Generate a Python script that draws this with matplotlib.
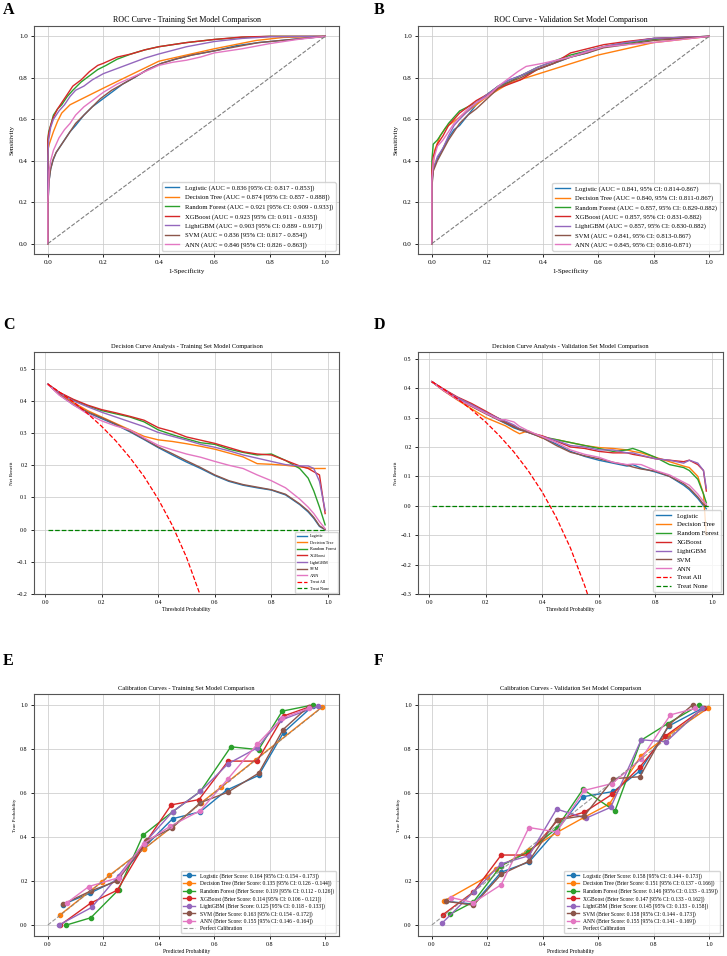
import numpy as np
import matplotlib
matplotlib.use('Agg')
from matplotlib import pyplot as plt

plt.rcParams['font.family'] = ['Liberation Serif', 'DejaVu Serif']
plt.rcParams['axes.unicode_minus'] = True

models = ['Logistic', 'Decision Tree', 'Random Forest', 'XGBoost', 'LightGBM', 'SVM', 'ANN']
colors = ['#1f77b4', '#ff7f0e', '#2ca02c', '#d62728', '#9467bd', '#8c564b', '#e377c2']

# ---------------- ROC, training ----------------
roc_train_auc = ['0.836 [95% CI: 0.817 - 0.853]', '0.874 [95% CI: 0.857 - 0.888]',
                 '0.921 [95% CI: 0.909 - 0.933]', '0.923 [95% CI: 0.911 - 0.935]',
                 '0.903 [95% CI: 0.889 - 0.917]', '0.836 [95% CI: 0.817 - 0.854]',
                 '0.846 [95% CI: 0.826 - 0.863]']
roc_train_fpr = {
    'Logistic':      [0, 0.0, 0.004, 0.01, 0.018, 0.03, 0.045, 0.06, 0.08, 0.1, 0.13, 0.16, 0.19, 0.23, 0.27, 0.31, 0.36, 0.41, 0.46, 0.52, 0.6, 0.68, 0.76, 0.84, 0.92, 1],
    'Decision Tree': [0, 0.0, 0.005, 0.02, 0.035, 0.05, 0.08, 0.2, 0.4, 0.6, 0.75, 0.85, 1],
    'Random Forest': [0, 0.0, 0.003, 0.01, 0.02, 0.035, 0.05, 0.07, 0.09, 0.12, 0.15, 0.18, 0.21, 0.25, 0.3, 0.35, 0.4, 0.5, 0.6, 0.7, 0.8, 1],
    'XGBoost':       [0, 0.0, 0.003, 0.01, 0.02, 0.035, 0.05, 0.07, 0.09, 0.12, 0.15, 0.18, 0.2, 0.25, 0.3, 0.35, 0.4, 0.5, 0.6, 0.7, 0.8, 1],
    'LightGBM':      [0, 0.0, 0.003, 0.01, 0.02, 0.04, 0.06, 0.08, 0.1, 0.13, 0.16, 0.2, 0.25, 0.3, 0.35, 0.4, 0.5, 0.6, 0.7, 0.8, 1],
    'SVM':           [0, 0.0, 0.004, 0.01, 0.02, 0.03, 0.045, 0.06, 0.08, 0.1, 0.13, 0.16, 0.19, 0.23, 0.27, 0.31, 0.36, 0.41, 0.46, 0.52, 0.6, 0.68, 0.76, 0.84, 0.92, 1],
    'ANN':           [0, 0.0, 0.005, 0.01, 0.02, 0.04, 0.06, 0.08, 0.1, 0.13, 0.16, 0.2, 0.25, 0.3, 0.35, 0.4, 0.45, 0.5, 0.55, 0.6, 0.65, 0.7, 0.8, 0.9, 1],
}
roc_train_tpr = {
    'Logistic':      [0, 0.18, 0.3, 0.36, 0.4, 0.44, 0.47, 0.5, 0.54, 0.57, 0.62, 0.66, 0.69, 0.73, 0.77, 0.8, 0.84, 0.87, 0.89, 0.91, 0.93, 0.955, 0.97, 0.98, 0.99, 1],
    'Decision Tree': [0, 0.45, 0.48, 0.54, 0.59, 0.63, 0.67, 0.75, 0.88, 0.94, 0.98, 0.995, 1],
    'Random Forest': [0, 0.5, 0.54, 0.57, 0.62, 0.65, 0.67, 0.71, 0.74, 0.78, 0.81, 0.84, 0.86, 0.89, 0.915, 0.935, 0.95, 0.97, 0.985, 0.995, 1.0, 1],
    'XGBoost':       [0, 0.5, 0.53, 0.57, 0.61, 0.65, 0.68, 0.72, 0.76, 0.79, 0.83, 0.86, 0.87, 0.9, 0.915, 0.935, 0.95, 0.97, 0.985, 0.997, 1.0, 1],
    'LightGBM':      [0, 0.42, 0.5, 0.56, 0.6, 0.64, 0.67, 0.71, 0.74, 0.76, 0.79, 0.82, 0.845, 0.87, 0.895, 0.915, 0.95, 0.975, 0.99, 0.998, 1],
    'SVM':           [0, 0.18, 0.3, 0.36, 0.41, 0.44, 0.47, 0.5, 0.54, 0.58, 0.62, 0.66, 0.7, 0.74, 0.77, 0.8, 0.84, 0.87, 0.89, 0.91, 0.93, 0.95, 0.97, 0.98, 0.99, 1],
    'ANN':           [0, 0.2, 0.35, 0.4, 0.45, 0.51, 0.55, 0.58, 0.62, 0.66, 0.69, 0.73, 0.77, 0.8, 0.83, 0.86, 0.875, 0.885, 0.9, 0.92, 0.93, 0.94, 0.965, 0.985, 1],
}

# ---------------- ROC, validation ----------------
roc_val_auc = ['0.841, 95% CI: 0.814-0.867', '0.840, 95% CI: 0.811-0.867',
               '0.857, 95% CI: 0.829-0.882', '0.857, 95% CI: 0.831-0.882',
               '0.857, 95% CI: 0.830-0.882', '0.841, 95% CI: 0.813-0.867',
               '0.845, 95% CI: 0.816-0.871']
roc_val_fpr = {
    'Logistic':      [0, 0.0, 0.005, 0.02, 0.04, 0.06, 0.08, 0.1, 0.13, 0.16, 0.2, 0.24, 0.28, 0.32, 0.38, 0.44, 0.5, 0.56, 0.62, 0.7, 0.8, 0.9, 1],
    'Decision Tree': [0, 0.0, 0.01, 0.03, 0.05, 0.1, 0.15, 0.2, 0.28, 0.6, 0.8, 1],
    'Random Forest': [0, 0.0, 0.005, 0.02, 0.04, 0.06, 0.08, 0.1, 0.13, 0.16, 0.2, 0.24, 0.28, 0.32, 0.38, 0.44, 0.5, 0.56, 0.62, 0.7, 0.8, 0.9, 1],
    'XGBoost':       [0, 0.0, 0.005, 0.02, 0.04, 0.06, 0.08, 0.1, 0.13, 0.16, 0.2, 0.24, 0.28, 0.32, 0.38, 0.44, 0.5, 0.56, 0.62, 0.7, 0.8, 0.9, 1],
    'LightGBM':      [0, 0.0, 0.005, 0.02, 0.04, 0.06, 0.08, 0.1, 0.13, 0.16, 0.2, 0.24, 0.28, 0.32, 0.38, 0.44, 0.5, 0.56, 0.62, 0.7, 0.8, 0.9, 1],
    'SVM':           [0, 0.0, 0.005, 0.02, 0.04, 0.06, 0.08, 0.1, 0.13, 0.16, 0.2, 0.24, 0.28, 0.32, 0.38, 0.44, 0.5, 0.56, 0.62, 0.7, 0.8, 0.9, 1],
    'ANN':           [0, 0.0, 0.005, 0.02, 0.04, 0.06, 0.08, 0.1, 0.13, 0.16, 0.2, 0.24, 0.28, 0.31, 0.34, 0.4, 0.5, 0.56, 0.62, 0.7, 0.8, 0.9, 1],
}
roc_val_tpr = {
    'Logistic':      [0, 0.28, 0.36, 0.41, 0.46, 0.51, 0.55, 0.57, 0.62, 0.67, 0.72, 0.76, 0.79, 0.81, 0.84, 0.87, 0.9, 0.92, 0.95, 0.97, 0.99, 0.995, 1],
    'Decision Tree': [0, 0.3, 0.45, 0.52, 0.56, 0.61, 0.66, 0.71, 0.775, 0.91, 0.97, 1],
    'Random Forest': [0, 0.4, 0.48, 0.5, 0.54, 0.58, 0.61, 0.64, 0.66, 0.68, 0.72, 0.76, 0.78, 0.81, 0.85, 0.88, 0.91, 0.93, 0.95, 0.965, 0.985, 0.995, 1],
    'XGBoost':       [0, 0.35, 0.42, 0.48, 0.52, 0.57, 0.6, 0.63, 0.66, 0.69, 0.72, 0.75, 0.77, 0.79, 0.84, 0.87, 0.92, 0.94, 0.96, 0.975, 0.99, 0.995, 1],
    'LightGBM':      [0, 0.3, 0.36, 0.42, 0.46, 0.52, 0.57, 0.6, 0.64, 0.68, 0.72, 0.76, 0.79, 0.81, 0.85, 0.88, 0.9, 0.93, 0.95, 0.97, 0.99, 0.995, 1],
    'SVM':           [0, 0.27, 0.35, 0.4, 0.45, 0.5, 0.54, 0.58, 0.62, 0.65, 0.7, 0.75, 0.78, 0.8, 0.84, 0.87, 0.9, 0.92, 0.945, 0.96, 0.98, 0.99, 1],
    'ANN':           [0, 0.3, 0.4, 0.47, 0.5, 0.54, 0.58, 0.61, 0.65, 0.68, 0.71, 0.76, 0.8, 0.83, 0.855, 0.87, 0.9, 0.925, 0.95, 0.96, 0.97, 0.985, 1],
}

# ---------------- DCA, training ----------------
dca_train_t = [0.01, 0.05, 0.1, 0.15, 0.2, 0.25, 0.3, 0.35, 0.4, 0.45, 0.5, 0.55, 0.6, 0.65, 0.7, 0.75, 0.8, 0.85, 0.9, 0.93, 0.95, 0.97, 0.99]
dca_train_nb = {
    'Logistic':      [0.452, 0.42, 0.388, 0.364, 0.345, 0.326, 0.304, 0.28, 0.255, 0.232, 0.21, 0.19, 0.168, 0.15, 0.138, 0.13, 0.123, 0.108, 0.078, 0.055, 0.035, 0.01, 0.0],
    'Decision Tree': [0.452, 0.423, 0.395, 0.37, 0.35, 0.33, 0.31, 0.29, 0.279, 0.274, 0.267, 0.259, 0.25, 0.238, 0.226, 0.205, 0.203, 0.2, 0.195, 0.192, 0.19, 0.19, 0.19],
    'Random Forest': [0.452, 0.426, 0.403, 0.385, 0.37, 0.36, 0.35, 0.335, 0.31, 0.295, 0.282, 0.27, 0.265, 0.25, 0.24, 0.232, 0.235, 0.215, 0.19, 0.16, 0.12, 0.07, 0.015],
    'XGBoost':       [0.452, 0.427, 0.405, 0.387, 0.373, 0.363, 0.352, 0.34, 0.317, 0.305, 0.288, 0.278, 0.268, 0.255, 0.242, 0.235, 0.232, 0.215, 0.198, 0.19, 0.18, 0.17, 0.05],
    'LightGBM':      [0.452, 0.425, 0.4, 0.382, 0.365, 0.35, 0.335, 0.32, 0.302, 0.29, 0.278, 0.265, 0.256, 0.245, 0.232, 0.222, 0.212, 0.202, 0.198, 0.198, 0.19, 0.15, 0.06],
    'SVM':           [0.452, 0.42, 0.39, 0.366, 0.348, 0.328, 0.306, 0.282, 0.257, 0.236, 0.214, 0.193, 0.17, 0.152, 0.14, 0.132, 0.124, 0.11, 0.08, 0.058, 0.038, 0.012, 0.0],
    'ANN':           [0.452, 0.418, 0.388, 0.36, 0.338, 0.322, 0.31, 0.285, 0.262, 0.248, 0.235, 0.225, 0.212, 0.2, 0.19, 0.17, 0.152, 0.13, 0.095, 0.07, 0.05, 0.025, 0.003],
}
dca_train_all = [0.452, 0.428, 0.397, 0.361, 0.321, 0.276, 0.224, 0.165, 0.095, 0.013, -0.086, -0.207]
dca_train_all_t = [0.01, 0.05, 0.1, 0.15, 0.2, 0.25, 0.3, 0.35, 0.4, 0.45, 0.5, 0.55]

# ---------------- DCA, validation ----------------
dca_val_t = [0.01, 0.05, 0.1, 0.15, 0.2, 0.25, 0.27, 0.3, 0.32, 0.35, 0.4, 0.45, 0.5, 0.55, 0.6, 0.65, 0.7, 0.72, 0.75, 0.8, 0.85, 0.9, 0.92, 0.95, 0.97, 0.98]
dca_val_nb = {
    'Logistic':      [0.422, 0.395, 0.365, 0.34, 0.315, 0.29, 0.28, 0.265, 0.258, 0.25, 0.232, 0.21, 0.185, 0.168, 0.155, 0.145, 0.135, 0.14, 0.128, 0.115, 0.1, 0.07, 0.055, 0.025, 0.0, -0.01],
    'Decision Tree': [0.422, 0.392, 0.36, 0.33, 0.3, 0.28, 0.272, 0.255, 0.245, 0.255, 0.23, 0.225, 0.215, 0.205, 0.198, 0.195, 0.19, 0.185, 0.18, 0.165, 0.15, 0.135, 0.13, 0.1, 0.04, -0.1],
    'Random Forest': [0.422, 0.396, 0.368, 0.345, 0.318, 0.295, 0.285, 0.27, 0.262, 0.252, 0.235, 0.225, 0.215, 0.205, 0.195, 0.185, 0.19, 0.195, 0.185, 0.165, 0.14, 0.13, 0.12, 0.09, 0.04, 0.01],
    'XGBoost':       [0.422, 0.398, 0.37, 0.348, 0.322, 0.295, 0.285, 0.27, 0.26, 0.25, 0.238, 0.22, 0.2, 0.195, 0.185, 0.18, 0.18, 0.175, 0.17, 0.16, 0.155, 0.15, 0.155, 0.14, 0.12, 0.05],
    'LightGBM':      [0.422, 0.396, 0.368, 0.344, 0.318, 0.295, 0.288, 0.275, 0.262, 0.25, 0.235, 0.222, 0.205, 0.2, 0.19, 0.19, 0.18, 0.18, 0.172, 0.16, 0.155, 0.145, 0.155, 0.145, 0.12, 0.06],
    'SVM':           [0.422, 0.393, 0.362, 0.338, 0.313, 0.29, 0.282, 0.268, 0.26, 0.25, 0.232, 0.205, 0.182, 0.17, 0.16, 0.148, 0.138, 0.132, 0.125, 0.118, 0.1, 0.075, 0.06, 0.03, 0.005, 0.0],
    'ANN':           [0.422, 0.393, 0.362, 0.34, 0.315, 0.292, 0.293, 0.285, 0.27, 0.255, 0.235, 0.215, 0.19, 0.175, 0.165, 0.148, 0.14, 0.142, 0.14, 0.12, 0.105, 0.08, 0.07, 0.04, 0.015, 0.005],
}
dca_val_all = [0.422, 0.398, 0.364, 0.327, 0.285, 0.237, 0.183, 0.12, 0.047, -0.04, -0.144, -0.271, -0.3]
dca_val_all_t = [0.01, 0.05, 0.1, 0.15, 0.2, 0.25, 0.3, 0.35, 0.4, 0.45, 0.5, 0.55, 0.56]

# ---------------- Calibration, training ----------------
cal_train_brier = ['0.164 [95% CI: 0.154 - 0.173]', '0.135 [95% CI: 0.126 - 0.144]',
                   '0.119 [95% CI: 0.112 - 0.126]', '0.114 [95% CI: 0.106 - 0.121]',
                   '0.125 [95% CI: 0.118 - 0.133]', '0.163 [95% CI: 0.154 - 0.172]',
                   '0.155 [95% CI: 0.146 - 0.164]']
cal_train_x = {
    'Logistic':      [0.054, 0.152, 0.248, 0.345, 0.45, 0.55, 0.645, 0.76, 0.85, 0.955],
    'Decision Tree': [0.043, 0.195, 0.222, 0.348, 0.449, 0.552, 0.624, 0.75, 0.988],
    'Random Forest': [0.067, 0.155, 0.255, 0.343, 0.45, 0.55, 0.66, 0.76, 0.845, 0.955],
    'XGBoost':       [0.045, 0.155, 0.25, 0.355, 0.445, 0.545, 0.65, 0.755, 0.85, 0.94],
    'LightGBM':      [0.04, 0.158, 0.255, 0.35, 0.45, 0.55, 0.65, 0.755, 0.838, 0.975],
    'SVM':           [0.055, 0.155, 0.25, 0.358, 0.447, 0.55, 0.648, 0.76, 0.848, 0.94],
    'ANN':           [0.07, 0.148, 0.255, 0.345, 0.44, 0.55, 0.65, 0.755, 0.845, 0.94],
}
cal_train_y = {
    'Logistic':      [0.093, 0.145, 0.203, 0.35, 0.483, 0.515, 0.613, 0.68, 0.875, 0.995],
    'Decision Tree': [0.045, 0.197, 0.226, 0.347, 0.447, 0.555, 0.626, 0.752, 0.99],
    'Random Forest': [0.0, 0.033, 0.16, 0.408, 0.515, 0.607, 0.81, 0.797, 0.972, 1.0],
    'XGBoost':       [0.0, 0.1, 0.158, 0.38, 0.546, 0.57, 0.745, 0.745, 0.95, 0.99],
    'LightGBM':      [0.0, 0.08, 0.225, 0.375, 0.515, 0.607, 0.733, 0.805, 0.93, 0.995],
    'SVM':           [0.095, 0.155, 0.2, 0.385, 0.44, 0.556, 0.603, 0.69, 0.888, 0.993],
    'ANN':           [0.102, 0.175, 0.215, 0.37, 0.448, 0.52, 0.665, 0.822, 0.94, 0.985],
}

# ---------------- Calibration, validation ----------------
cal_val_brier = ['0.158 [95% CI: 0.144 - 0.173]', '0.151 [95% CI: 0.137 - 0.166]',
                 '0.146 [95% CI: 0.133 - 0.159]', '0.147 [95% CI: 0.133 - 0.162]',
                 '0.145 [95% CI: 0.133 - 0.158]', '0.158 [95% CI: 0.144 - 0.173]',
                 '0.155 [95% CI: 0.141 - 0.169]']
cal_val_x = {
    'Logistic':      [0.05, 0.15, 0.25, 0.35, 0.45, 0.545, 0.655, 0.75, 0.855, 0.975],
    'Decision Tree': [0.045, 0.2, 0.23, 0.35, 0.45, 0.55, 0.64, 0.755, 0.85, 0.995],
    'Random Forest': [0.067, 0.15, 0.25, 0.345, 0.45, 0.545, 0.66, 0.755, 0.85, 0.965],
    'XGBoost':       [0.04, 0.15, 0.25, 0.345, 0.455, 0.55, 0.65, 0.75, 0.84, 0.98],
    'LightGBM':      [0.038, 0.152, 0.25, 0.35, 0.45, 0.555, 0.645, 0.755, 0.845, 0.975],
    'SVM':           [0.05, 0.15, 0.25, 0.35, 0.45, 0.55, 0.655, 0.75, 0.855, 0.94],
    'ANN':           [0.068, 0.15, 0.25, 0.35, 0.45, 0.55, 0.65, 0.755, 0.86, 0.95],
}
cal_val_y = {
    'Logistic':      [0.108, 0.095, 0.24, 0.286, 0.43, 0.583, 0.607, 0.7, 0.905, 0.985],
    'Decision Tree': [0.11, 0.22, 0.255, 0.34, 0.42, 0.49, 0.55, 0.77, 0.86, 0.985],
    'Random Forest': [0.05, 0.105, 0.27, 0.33, 0.44, 0.617, 0.518, 0.84, 0.915, 1.0],
    'XGBoost':       [0.047, 0.15, 0.318, 0.318, 0.478, 0.513, 0.594, 0.718, 0.857, 0.985],
    'LightGBM':      [0.01, 0.152, 0.278, 0.315, 0.527, 0.485, 0.535, 0.842, 0.833, 0.985],
    'SVM':           [0.108, 0.09, 0.23, 0.29, 0.478, 0.497, 0.665, 0.674, 0.91, 1.0],
    'ANN':           [0.125, 0.102, 0.183, 0.443, 0.423, 0.612, 0.643, 0.755, 0.955, 0.985],
}

W, H = 727, 956
fig = plt.figure(figsize=(W / 100, H / 100), dpi=100)


def make_axes(l, t, r, b):
    return fig.add_axes([l / W, 1 - b / H, (r - l) / W, (b - t) / H])


def style(ax, fs):
    ax.grid(True, color='#cccccc', linewidth=0.7, alpha=0.8)
    ax.tick_params(labelsize=fs, length=2.5, width=0.6, pad=2)
    for s in ax.spines.values():
        s.set_color('#555555')
        s.set_linewidth(0.8)


def letter(x, y, s):
    fig.text(x / W, 1 - y / H, s, fontsize=11.5, fontweight='bold', va='top', ha='left')


# A / B: ROC
for (l, r, fpr, tpr, auc, title, name, lx) in [
        (34, 339, roc_train_fpr, roc_train_tpr, roc_train_auc, 'ROC Curve - Training Set Model Comparison', 'A', 3),
        (418, 723, roc_val_fpr, roc_val_tpr, roc_val_auc, 'ROC Curve - Validation Set Model Comparison', 'B', 374)]:
    ax = make_axes(l, 26, r, 254)
    for m, c, a in zip(models, colors, auc):
        ax.plot(fpr[m], tpr[m], color=c, lw=1.0, label='{} (AUC = {})'.format(m, a))
    ax.plot([0, 1], [0, 1], color='gray', ls='--', lw=0.8)
    ax.set_xlim(-0.05, 1.05)
    ax.set_ylim(-0.05, 1.05)
    ax.set_xticks(np.arange(0, 1.01, 0.2))
    ax.set_yticks(np.arange(0, 1.01, 0.2))
    style(ax, 5)
    ax.set_xlabel('1-Specificity', fontsize=5, labelpad=2)
    ax.set_ylabel('Sensitivity', fontsize=5, labelpad=3)
    ax.set_title(title, fontsize=5.8, pad=3)
    ax.legend(loc='lower right', fontsize=4.8, handlelength=2.2, labelspacing=0.5, borderaxespad=0.5)
    letter(lx, 2, name)

# C / D: DCA
for (l, r, t, nb, all_t, all_nb, title, ylo, yhi, leg_fs, leg_ls, name, lx) in [
        (34, 339, dca_train_t, dca_train_nb, dca_train_all_t, dca_train_all, 'Decision Curve Analysis - Training Set Model Comparison', -0.2, 0.552, 3.1, 0.6, 'C', 3),
        (418, 723, dca_val_t, dca_val_nb, dca_val_all_t, dca_val_all, 'Decision Curve Analysis - Validation Set Model Comparison', -0.3, 0.523, 4.9, 0.45, 'D', 374)]:
    ax = make_axes(l, 352, r, 594)
    for m, c in zip(models, colors):
        ax.plot(t, nb[m], color=c, lw=1.0, label=m)
    ax.plot(all_t, all_nb, color='red', ls='--', lw=0.9, label='Treat All')
    ax.plot([0.01, 0.99], [0, 0], color='g', ls='--', lw=0.9, label='Treat None')
    ax.set_xlim(-0.039, 1.039)
    ax.set_ylim(ylo, yhi)
    ax.set_xticks(np.arange(0, 1.01, 0.2))
    style(ax, 4.3)
    ax.set_xlabel('Threshold Probability', fontsize=4, labelpad=1)
    ax.set_ylabel('Net Benefit', fontsize=3.6, labelpad=2)
    ax.set_title(title, fontsize=4.6, pad=3)
    ax.legend(loc='lower right', fontsize=leg_fs, handlelength=2.2, labelspacing=leg_ls, borderaxespad=0.3)
    letter(lx, 317, name)

# E / F: Calibration
for (l, r, cx, cy, brier, title, name, lx) in [
        (34, 339, cal_train_x, cal_train_y, cal_train_brier, 'Calibration Curves - Training Set Model Comparison', 'E', 3),
        (418, 723, cal_val_x, cal_val_y, cal_val_brier, 'Calibration Curves - Validation Set Model Comparison', 'F', 374)]:
    ax = make_axes(l, 694, r, 936)
    for m, c, b in zip(models, colors, brier):
        ax.plot(cx[m], cy[m], color=c, lw=1.0, marker='o', ms=3, label='{} (Brier Score: {})'.format(m, b))
    ax.plot([0, 1], [0, 1], color='gray', ls='--', lw=0.8, alpha=0.8, label='Perfect Calibration')
    ax.set_xlim(-0.05, 1.05)
    ax.set_ylim(-0.05, 1.05)
    ax.set_xticks(np.arange(0, 1.01, 0.2))
    ax.set_yticks(np.arange(0, 1.01, 0.2))
    style(ax, 4.3)
    ax.set_xlabel('Predicted Probability', fontsize=4, labelpad=1)
    ax.set_ylabel('True Probability', fontsize=3.6, labelpad=2)
    ax.set_title(title, fontsize=4.6, pad=3)
    ax.legend(loc='lower right', fontsize=4.0, handlelength=2.2, labelspacing=0.3, borderaxespad=0.5)
    letter(lx, 653, name)

fig.savefig('out.png', dpi=100)
